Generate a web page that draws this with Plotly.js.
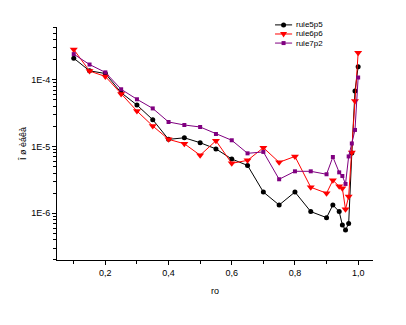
<!DOCTYPE html>
<html>
<head>
<meta charset="utf-8">
<script src="https://cdn.plot.ly/plotly-3.0.1.min.js"></script>
<style>html,body{margin:0;padding:0;background:#fff;}#chart{width:406px;height:325px;}</style>
</head>
<body>
<div id="chart"></div>
<script>
const ro = [0.1, 0.15, 0.2, 0.25, 0.3, 0.35, 0.4, 0.45, 0.5, 0.55, 0.6, 0.65, 0.7, 0.75, 0.8, 0.85, 0.9, 0.92, 0.94, 0.95, 0.96, 0.97, 0.98, 0.99, 1.0];
const rule5p5 = [2.1e-4, 1.36e-4, 1.24e-4, 6.4e-5, 4.18e-5, 2.52e-5, 1.28e-5, 1.35e-5, 1.14e-5, 9.2e-6, 6.5e-6, 5.2e-6, 2.08e-6, 1.33e-6, 2.08e-6, 1.06e-6, 8.6e-7, 1.33e-6, 1.06e-6, 6.7e-7, 5.6e-7, 7.0e-7, 8.0e-6, 6.8e-5, 1.57e-4];
const rule6p6 = [2.84e-4, 1.35e-4, 1.12e-4, 6.1e-5, 3.4e-5, 2.03e-5, 1.28e-5, 1.1e-5, 7.4e-6, 1.22e-5, 5.6e-6, 6.2e-6, 9.6e-6, 5.8e-6, 7.1e-6, 2.45e-6, 2.0e-6, 3.12e-6, 2.53e-6, 2.37e-6, 1.15e-6, 1.78e-6, 8.1e-6, 4.8e-5, 2.54e-4];
const rule7p2 = [2.42e-4, 1.69e-4, 1.29e-4, 7.2e-5, 5.1e-5, 3.72e-5, 2.33e-5, 2.1e-5, 1.96e-5, 1.54e-5, 1.24e-5, 7.9e-6, 8.3e-6, 3.23e-6, 4.25e-6, 4.25e-6, 3.84e-6, 6.97e-6, 4.1e-6, 3.62e-6, 2.75e-6, 7.1e-6, 1.11e-5, 1.77e-5, 1.08e-4];
const seriesNames = ["rule5p5", "rule6p6", "rule7p2"];
const seriesColors = ["#000000", "#ff0000", "#800080"];
const yTickVals = [1e-6, 1e-5, 1e-4];
const yTickText = ["1E-6", "1E-5", "1E-4"];
const xTitle = "ro";
const yTitle = "Î ø èáêà";

const minorY = [];
for (let e = -7; e <= -4; e++) for (let m = 2; m <= 9; m++) minorY.push(m * Math.pow(10, e));

const font = {family: "Liberation Sans, Arial, sans-serif", size: 9, color: "#000"};
const traces = [
  {x: ro, y: rule5p5, name: seriesNames[0], mode: "lines+markers",
   line: {color: seriesColors[0], width: 1}, marker: {symbol: "circle", size: 5, color: seriesColors[0]}},
  {x: ro, y: rule6p6, name: seriesNames[1], mode: "lines+markers",
   line: {color: seriesColors[1], width: 1}, marker: {symbol: "triangle-down", size: 7, color: seriesColors[1]}},
  {x: ro, y: rule7p2, name: seriesNames[2], mode: "lines+markers",
   line: {color: seriesColors[2], width: 1}, marker: {symbol: "square", size: 4, color: seriesColors[2]}}
];

// compact legend (Origin style), built from the series names/colours
const legY = [1.009, 0.970, 0.931];
const legX0 = 0.690, legX1 = 0.744, legXm = 0.717, legTx = 0.750;
const shapes = [], annotations = [];
const markerPaths = [
  null,
  "M -3.5,2 L 3.5,2 L 0,-3.5 Z",
  "M -2,-2 L 2,-2 L 2,2 L -2,2 Z"
];
seriesNames.forEach((nm, i) => {
  shapes.push({type: "line", xref: "paper", yref: "paper", x0: legX0, x1: legX1, y0: legY[i], y1: legY[i],
               line: {color: seriesColors[i], width: 1}});
  if (i === 0) {
    shapes.push({type: "circle", xref: "paper", yref: "paper", xsizemode: "pixel", ysizemode: "pixel",
                 xanchor: legXm, yanchor: legY[i], x0: -2.5, x1: 2.5, y0: -2.5, y1: 2.5,
                 fillcolor: seriesColors[i], line: {color: seriesColors[i], width: 0}});
  } else {
    shapes.push({type: "path", xref: "paper", yref: "paper", xsizemode: "pixel", ysizemode: "pixel",
                 xanchor: legXm, yanchor: legY[i], path: markerPaths[i],
                 fillcolor: seriesColors[i], line: {color: seriesColors[i], width: 0}});
  }
  annotations.push({xref: "paper", yref: "paper", x: legTx, y: legY[i], xanchor: "left", yanchor: "middle",
                    text: nm, showarrow: false, font: {family: font.family, size: 8, color: "#000"}});
});

const layout = {
  width: 406, height: 325,
  margin: {l: 57, r: 33, t: 27, b: 65},
  paper_bgcolor: "#fff", plot_bgcolor: "#fff",
  font: font,
  separators: ", ",
  showlegend: false,
  shapes: shapes,
  annotations: annotations,
  xaxis: {range: [0.047, 1.047], showgrid: false, zeroline: false, showline: true, linecolor: "#000", linewidth: 1,
          ticks: "outside", ticklen: 4, tickcolor: "#000", dtick: 0.2, tick0: 0, tickformat: ".1f",
          minor: {dtick: 0.1, tick0: 0, ticks: "outside", ticklen: 3, tickcolor: "#000"},
          title: {text: xTitle, font: font, standoff: 10}},
  yaxis: {type: "log", range: [-6.7, -3.21], showgrid: false, zeroline: false, showline: true, linecolor: "#000", linewidth: 1,
          ticks: "outside", ticklen: 4, tickcolor: "#000", tickmode: "array", tickvals: yTickVals, ticktext: yTickText,
          minor: {tickmode: "array", tickvals: minorY, ticks: "outside", ticklen: 3, tickcolor: "#000"},
          title: {text: yTitle, font: font, standoff: 3}}
};
Plotly.newPlot("chart", traces, layout, {staticPlot: true, displayModeBar: false});
</script>
</body>
</html>
